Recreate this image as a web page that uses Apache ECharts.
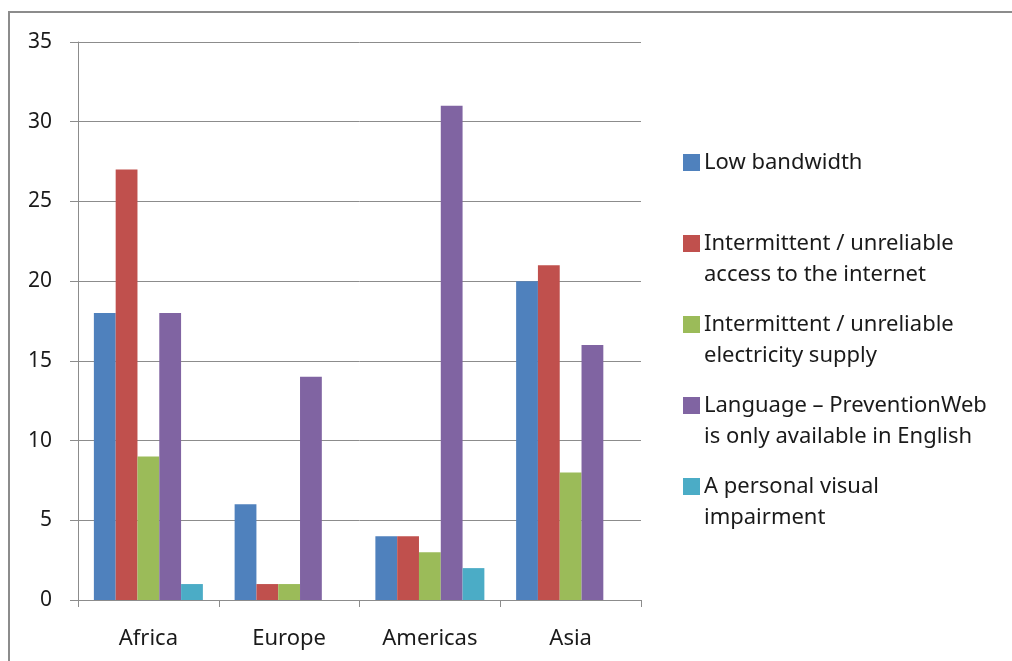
<!DOCTYPE html>
<html>
<head>
<meta charset="utf-8">
<script src="https://cdn.jsdelivr.net/npm/echarts@6/dist/echarts.min.js"></script>
<style>
  html, body { margin: 0; padding: 0; background: #fff; }
  #chart { width: 1012px; height: 661px; }
</style>
</head>
<body>
<div id="chart"></div>
<script>
// Regions on the category axis
const regions = ['Africa', 'Europe', 'Americas', 'Asia'];

// Access problems, one array per series (number of respondents)
const lowBandwidth = [18, 6, 4, 20];
const unreliableInternet = [27, 1, 4, 21];
const unreliableElectricity = [9, 1, 3, 8];
const languageOnlyEnglish = [18, 14, 31, 16];
const visualImpairment = [1, 0, 2, 0];

const seriesNames = [
  'Low bandwidth',
  'Intermittent / unreliable access to the internet',
  'Intermittent / unreliable electricity supply',
  'Language \u2013 PreventionWeb is only available in English',
  'A personal visual impairment'
];
// Wrapped legend text
const legendLabels = [
  'Low bandwidth\n ',
  'Intermittent / unreliable\naccess to the internet',
  'Intermittent / unreliable\nelectricity supply',
  'Language \u2013 PreventionWeb\nis only available in English',
  'A personal visual\nimpairment'
];
const yTicks = { min: 0, max: 35, interval: 5 };

const seriesValues = [lowBandwidth, unreliableInternet, unreliableElectricity, languageOnlyEnglish, visualImpairment];
const colors = ['#4F81BD', '#C0504D', '#9BBB59', '#8064A2', '#4BACC6'];

const FONT = '"Noto Sans", "Open Sans", sans-serif';
const axisGray = '#8c8c8c';

// Square swatch sitting at the top of a taller box so it lines up with the first text line
const swatchIcon = 'path://M0,0h17v17h-17zM0,48h17';

const chart = echarts.init(document.getElementById('chart'), null, { renderer: 'canvas' });

chart.setOption({
  animation: false,
  backgroundColor: '#ffffff',
  color: colors,
  graphic: [{
    type: 'rect',
    shape: { x: 9, y: 12, width: 1100, height: 700 },
    style: { fill: 'none', stroke: '#8c8c8c', lineWidth: 2 },
    silent: true,
    z: 0
  }],
  grid: { left: 78, right: 371, top: 42, bottom: 61, containLabel: false },
  legend: {
    orient: 'vertical',
    left: 683,
    top: 147,
    padding: 0,
    itemGap: 19,
    itemWidth: 17,
    itemHeight: 48,
    data: seriesNames.map(n => ({ name: n, icon: swatchIcon })),
    formatter: name => legendLabels[seriesNames.indexOf(name)],
    textStyle: { fontFamily: FONT, fontSize: 22, color: '#1a1a1a', lineHeight: 31, padding: [0, 0, 0, -1] }
  },
  xAxis: {
    type: 'category',
    data: regions,
    axisLine: { show: true, lineStyle: { color: axisGray, width: 1 } },
    axisTick: { show: true, alignWithLabel: false, length: 7, lineStyle: { color: axisGray } },
    axisLabel: { fontFamily: FONT, fontSize: 22, color: '#1a1a1a', margin: 28 },
    splitLine: { show: false }
  },
  yAxis: {
    type: 'value',
    min: yTicks.min,
    max: yTicks.max,
    interval: yTicks.interval,
    axisLine: { show: true, lineStyle: { color: axisGray, width: 1 } },
    axisTick: { show: true, length: 8, lineStyle: { color: axisGray } },
    axisLabel: { fontFamily: FONT, fontSize: 21, color: '#1a1a1a', margin: 26 },
    splitLine: { show: true, lineStyle: { color: axisGray, width: 1 } }
  },
  series: seriesNames.map((name, i) => ({
    name: name,
    type: 'bar',
    data: seriesValues[i],
    barWidth: 21.8,
    barGap: '0%',
    itemStyle: { color: colors[i] }
  }))
});
</script>
</body>
</html>
